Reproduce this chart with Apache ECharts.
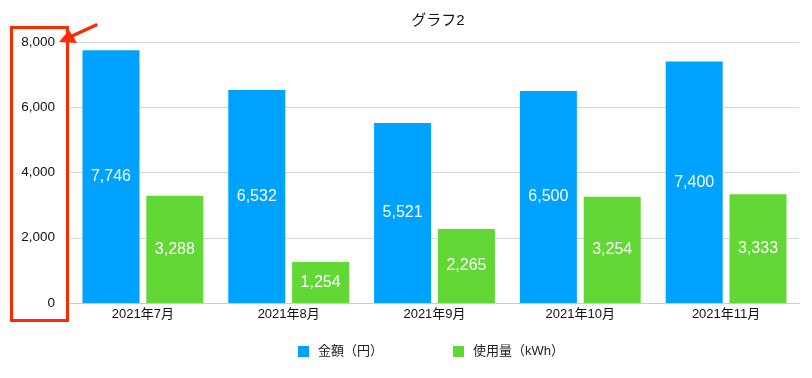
<!DOCTYPE html>
<html><head><meta charset="utf-8">
<script src="https://cdn.jsdelivr.net/npm/echarts@6/dist/echarts.min.js"></script>
<style>html,body{margin:0;padding:0;background:#fff}#c{width:812px;height:378px}</style>
</head><body><div id="c"></div>
<script>
const categories = ['2021年7月','2021年8月','2021年9月','2021年10月','2021年11月'];
const amountYen = [7746, 6532, 5521, 6500, 7400];
const usageKwh = [3288, 1254, 2265, 3254, 3333];
const seriesNames = ['金額（円）','使用量（kWh）'];
const yTicks = {min: 0, max: 8000, interval: 2000};

const font = '"Liberation Sans", "Noto Sans CJK JP", sans-serif';
const chart = echarts.init(document.getElementById('c'));
const fmt = v => v.toLocaleString('en-US');
chart.setOption({
  animation: false,
  textStyle: {fontFamily: font},
  title: {text: 'グラフ2', left: 433, top: 8, textAlign: 'center',
    textStyle: {fontSize: 15, fontWeight: 'normal', color: '#111', fontFamily: font}},
  legend: {bottom: 15, left: 293, itemWidth: 11, itemHeight: 11, itemGap: 70,
    icon: 'rect', textStyle: {fontSize: 13, color: '#222', fontFamily: font, padding: [0, 0, 0, 4]},
    data: seriesNames},
  grid: {left: 70, right: 13, top: 42, bottom: 75, containLabel: false},
  xAxis: {type: 'category', data: categories,
    axisLine: {lineStyle: {color: '#cccccc'}}, axisTick: {show: false},
    axisLabel: {fontSize: 13, color: '#111', margin: 5, fontFamily: font}},
  yAxis: {type: 'value', min: yTicks.min, max: yTicks.max, interval: yTicks.interval,
    axisLine: {show: false}, axisTick: {show: false},
    splitLine: {lineStyle: {color: '#d6d6d6'}},
    axisLabel: {fontSize: 13.5, color: '#111', margin: 15, formatter: fmt, fontFamily: font}},
  series: [
    {name: seriesNames[0], type: 'bar', data: amountYen, barWidth: 57, barGap: '12%',
      itemStyle: {color: '#00a2ff'},
      label: {show: true, position: 'inside', color: '#fff', fontSize: 16, formatter: p => fmt(p.value), fontFamily: font}},
    {name: seriesNames[1], type: 'bar', data: usageKwh, barWidth: 57,
      itemStyle: {color: '#61d836'},
      label: {show: true, position: 'inside', color: '#fff', fontSize: 16, formatter: p => fmt(p.value), fontFamily: font}}
  ],
  graphic: [
    {type: 'rect', shape: {x: 11.5, y: 27.5, width: 56, height: 293},
      style: {fill: 'none', stroke: '#ff2a00', lineWidth: 3}, z: 100},
    {type: 'line', shape: {x1: 96, y1: 25, x2: 72, y2: 36},
      style: {stroke: '#ff2a00', lineWidth: 3.5, lineCap: 'round'}, z: 100},
    {type: 'polygon', shape: {points: [[59, 42], [69, 30], [77, 43]]},
      style: {fill: '#ff2a00'}, z: 100}
  ]
});
</script></body></html>
